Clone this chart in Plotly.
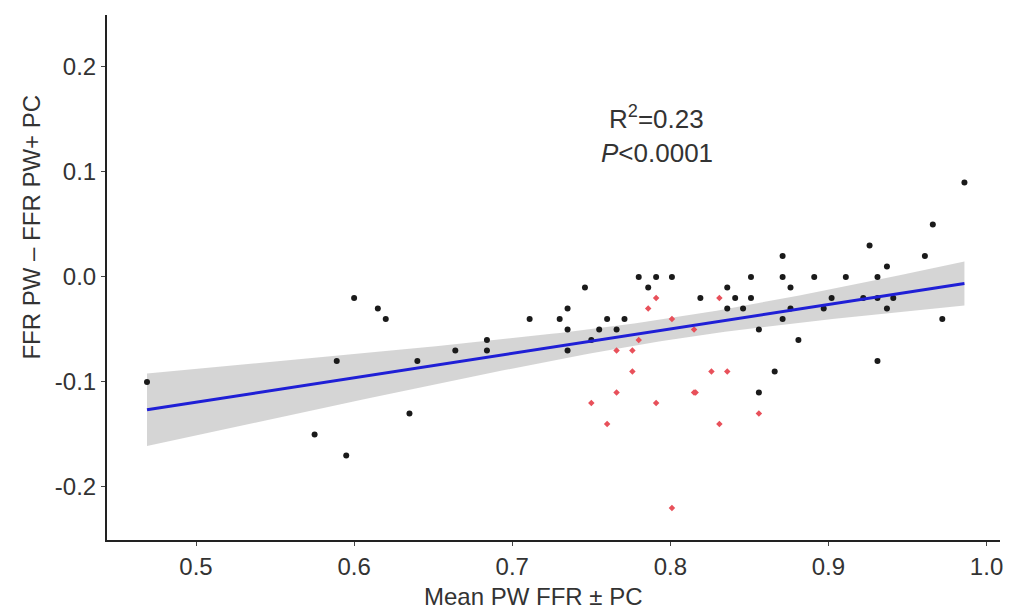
import numpy as np
import plotly.graph_objects as go

# Black points (PW FFR differences)
black_x = [0.469, 0.575, 0.589, 0.595, 0.600, 0.615, 0.620, 0.635, 0.640, 0.664, 0.684, 0.684,
           0.711, 0.730, 0.735, 0.746, 0.735, 0.735, 0.750, 0.755, 0.760, 0.766, 0.771,
           0.780, 0.791, 0.801, 0.786, 0.819,
           0.926, 0.871, 0.961, 0.937, 0.851, 0.871, 0.891, 0.911, 0.931, 0.836, 0.876,
           0.841, 0.851, 0.836, 0.846, 0.876, 0.897, 0.902, 0.922, 0.931, 0.941, 0.937,
           0.856, 0.871, 0.972, 0.881, 0.931, 0.866, 0.856, 0.986, 0.966]
black_y = [-0.10, -0.15, -0.08, -0.17, -0.02, -0.03, -0.04, -0.13, -0.08, -0.07, -0.06, -0.07,
           -0.04, -0.04, -0.03, -0.01, -0.05, -0.07, -0.06, -0.05, -0.04, -0.05, -0.04,
           0.00, 0.00, 0.00, -0.01, -0.02,
           0.03, 0.02, 0.02, 0.01, 0.00, 0.00, 0.00, 0.00, 0.00, -0.01, -0.01,
           -0.02, -0.02, -0.03, -0.03, -0.03, -0.03, -0.02, -0.02, -0.02, -0.02, -0.03,
           -0.05, -0.04, -0.04, -0.06, -0.08, -0.09, -0.11, 0.09, 0.05]

# Red points
red_x = [0.791, 0.786, 0.801, 0.780, 0.766, 0.776, 0.776, 0.766, 0.750, 0.791, 0.760, 0.801,
         0.816, 0.831, 0.815, 0.826, 0.836, 0.815, 0.831, 0.856]
red_y = [-0.02, -0.03, -0.04, -0.06, -0.07, -0.07, -0.09, -0.11, -0.12, -0.12, -0.14, -0.22,
         -0.11, -0.02, -0.05, -0.09, -0.09, -0.11, -0.14, -0.13]

annot_r2 = "R<sup>2</sup>=0.23"
annot_p = "<i>P</i><0.0001"
x_title = "Mean PW FFR ± PC"
y_title = "FFR PW – FFR PW+ PC"
x_ticks = [0.5, 0.6, 0.7, 0.8, 0.9, 1.0]
y_ticks = [-0.2, -0.1, 0.0, 0.1, 0.2]
T_CRIT = 1.99

# Linear fit with 95% confidence band
all_x = np.array(black_x + red_x)
all_y = np.array(black_y + red_y)
n = len(all_x)
slope, intercept = np.polyfit(all_x, all_y, 1)
resid = all_y - (slope * all_x + intercept)
s = np.sqrt(np.sum(resid ** 2) / (n - 2))
xm = all_x.mean()
sxx = np.sum((all_x - xm) ** 2)
fx = np.linspace(all_x.min(), all_x.max(), 100)
fy = slope * fx + intercept
se = s * np.sqrt(1 / n + (fx - xm) ** 2 / sxx)
lo = fy - T_CRIT * se
hi = fy + T_CRIT * se

FONT = "Liberation Sans, Arial"
fig = go.Figure()
fig.add_trace(go.Scatter(x=np.concatenate([fx, fx[::-1]]), y=np.concatenate([hi, lo[::-1]]),
                         fill="toself", fillcolor="rgba(190,190,190,0.65)", line=dict(width=0),
                         mode="lines", hoverinfo="skip", showlegend=False))
fig.add_trace(go.Scatter(x=black_x, y=black_y, mode="markers",
                         marker=dict(color="#1a1a1a", size=6), showlegend=False))
fig.add_trace(go.Scatter(x=red_x, y=red_y, mode="markers",
                         marker=dict(color="#e8505a", size=5, symbol="diamond"), showlegend=False))
fig.add_trace(go.Scatter(x=fx, y=fy, mode="lines", line=dict(color="#1f1fd6", width=3),
                         showlegend=False))

fig.add_annotation(x=0.7915, y=0.152, xref="x", yref="y", text=annot_r2, showarrow=False,
                   font=dict(size=26, color="#333", family=FONT))
fig.add_annotation(x=0.7915, y=0.118, xref="x", yref="y", text=annot_p, showarrow=False,
                   font=dict(size=26, color="#333", family=FONT))

axis_font = dict(size=24, color="#333", family=FONT)
fig.add_annotation(x=0.478, y=-0.107, xref="paper", yref="paper", text=x_title,
                   showarrow=False, xanchor="center", yanchor="middle", font=axis_font)
fig.add_annotation(x=-0.084, y=0.597, xref="paper", yref="paper", text=y_title, textangle=-90,
                   showarrow=False, xanchor="center", yanchor="middle", font=axis_font)

fig.update_layout(
    width=1011, height=610,
    margin=dict(l=107, r=11, t=15, b=70),
    plot_bgcolor="white", paper_bgcolor="white",
    font=dict(family=FONT, color="#333"),
    xaxis=dict(range=[0.4437, 1.0085], tickvals=x_ticks, ticktext=[f"{v:.1f}" for v in x_ticks],
               showgrid=False, zeroline=False, showline=True, linecolor="#222", linewidth=2,
               ticks="outside", ticklen=4, tickcolor="#444", tickfont=axis_font, automargin=False),
    yaxis=dict(range=[-0.2505, 0.2495], tickvals=y_ticks, ticktext=[f"{v:.1f}" for v in y_ticks],
               showgrid=False, zeroline=False, showline=True, linecolor="#222", linewidth=2,
               ticks="outside", ticklen=4, tickcolor="#444", tickfont=axis_font, automargin=False),
)
fig.write_html("out.html")
